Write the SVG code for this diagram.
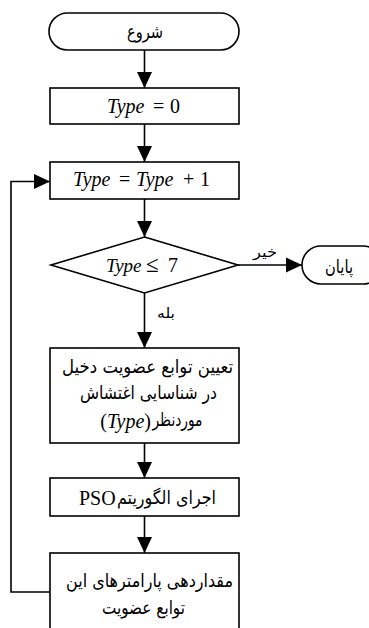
<svg xmlns="http://www.w3.org/2000/svg" width="369" height="628" viewBox="0 0 369 628">
<style>
.shape{fill:#fff;stroke:#000;stroke-width:1.6}
.line{fill:none;stroke:#000;stroke-width:1.6}
.fa{font-family:"DejaVu Sans",sans-serif;font-size:18.5px;fill:#000}
.lbl{font-family:"DejaVu Sans",sans-serif;font-size:14px;fill:#000}
.m{font-family:"Liberation Serif",serif;font-size:20px;fill:#000}
.i{font-style:italic}
</style>
<defs>
<marker id="ah" markerWidth="16" markerHeight="16" refX="16" refY="7.5" orient="auto" markerUnits="userSpaceOnUse" viewBox="0 0 16 15">
<path d="M0,0 L16,7.5 L0,15 Z" fill="#000"/>
</marker>
</defs>
<rect width="369" height="628" fill="#fff"/>
<g id="connectors">
<line class="line" x1="144.5" y1="50" x2="144.5" y2="88" marker-end="url(#ah)"/>
<line class="line" x1="144.5" y1="124" x2="144.5" y2="162" marker-end="url(#ah)"/>
<line class="line" x1="144.5" y1="199" x2="144.5" y2="237" marker-end="url(#ah)"/>
<line class="line" x1="238" y1="265" x2="302" y2="265" marker-end="url(#ah)"/>
<line class="line" x1="144.5" y1="293" x2="144.5" y2="348" marker-end="url(#ah)"/>
<line class="line" x1="144.5" y1="443" x2="144.5" y2="478" marker-end="url(#ah)"/>
<line class="line" x1="144.5" y1="516" x2="144.5" y2="553" marker-end="url(#ah)"/>
<polyline class="line" points="50,592 11,592 11,181.5 50,181.5" marker-end="url(#ah)"/>
<text class="lbl" x="265" y="257" text-anchor="middle" textLength="24" lengthAdjust="spacingAndGlyphs">خیر</text>
<text class="lbl" x="166" y="318" text-anchor="middle" textLength="18" lengthAdjust="spacingAndGlyphs">بله</text>
</g>
<g id="start">
<rect class="shape" x="49" y="13" width="190" height="37" rx="18.5"/>
<text class="fa" x="145" y="38" text-anchor="middle" textLength="36" lengthAdjust="spacingAndGlyphs">شروع</text>
</g>
<g id="init">
<rect class="shape" x="50" y="88" width="189" height="36"/>
<text class="m" y="113"><tspan class="i" x="107">Type</tspan><tspan x="153">=</tspan><tspan x="170">0</tspan></text>
</g>
<g id="increment">
<rect class="shape" x="50" y="162" width="189" height="37"/>
<text class="m" y="186"><tspan class="i" x="73">Type</tspan><tspan x="119">=</tspan><tspan class="i" x="136">Type</tspan><tspan x="183">+</tspan><tspan x="200">1</tspan></text>
</g>
<g id="decision">
<polygon class="shape" points="144.5,237 238,265 144.5,293 51,265"/>
<text class="m" y="272"><tspan class="i" x="106" font-size="19">Type</tspan><tspan x="146" font-size="23">≤</tspan><tspan x="168">7</tspan></text>
</g>
<g id="end">
<rect class="shape" x="302" y="246" width="80" height="38" rx="19"/>
<text class="fa" x="339" y="273" text-anchor="middle" textLength="28" lengthAdjust="spacingAndGlyphs">پایان</text>
</g>
<g id="assign">
<rect class="shape" x="50" y="348" width="189" height="95"/>
<text class="fa" x="147.5" y="373" text-anchor="middle" textLength="171" lengthAdjust="spacingAndGlyphs">تعیین توابع عضویت دخیل</text>
<text class="fa" x="148.5" y="399" text-anchor="middle" textLength="137" lengthAdjust="spacingAndGlyphs">در شناسایی اغتشاش</text>
<text class="fa" x="177.5" y="426" text-anchor="middle" textLength="50" lengthAdjust="spacingAndGlyphs">موردنظر</text>
<text class="m" x="151" y="428" text-anchor="end">(<tspan class="i">Type</tspan>)</text>
</g>
<g id="pso">
<rect class="shape" x="50" y="478" width="189" height="38"/>
<text class="fa" x="166.5" y="504" text-anchor="middle" textLength="99" lengthAdjust="spacingAndGlyphs">اجرای الگوریتم</text>
<text class="m" x="79" y="505">PSO</text>
</g>
<g id="params">
<rect class="shape" x="50" y="553" width="189" height="90"/>
<text class="fa" x="149.5" y="587" text-anchor="middle" textLength="167" lengthAdjust="spacingAndGlyphs">مقداردهی پارامترهای این</text>
<text class="fa" x="143.5" y="614" text-anchor="middle" textLength="83" lengthAdjust="spacingAndGlyphs">توابع عضویت</text>
</g>
</svg>
